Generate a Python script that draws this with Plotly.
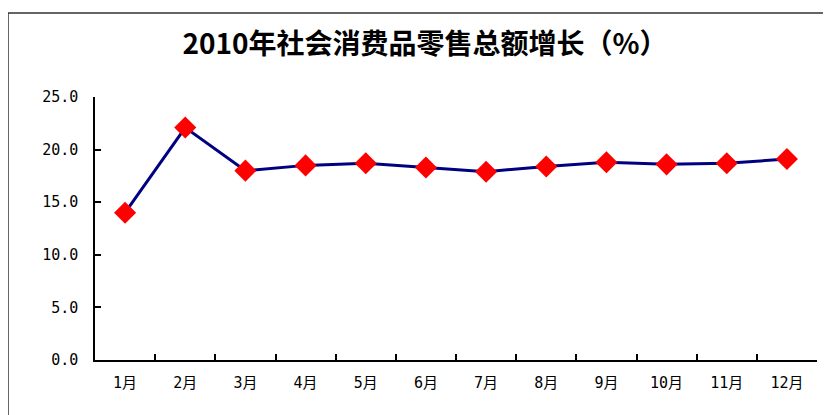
import plotly.graph_objects as go

months = ["1月", "2月", "3月", "4月", "5月", "6月", "7月", "8月", "9月", "10月", "11月", "12月"]
growth = [14.0, 22.1, 18.0, 18.5, 18.7, 18.3, 17.9, 18.4, 18.8, 18.6, 18.7, 19.1]
y_ticks = [0, 5, 10, 15, 20, 25]
y_tick_text = ["0.0", "5.0", "10.0", "15.0", "20.0", "25.0"]
title_text = "2010年社会消费品零售总额增长（%）"

# page has an 8px body margin; the plot area should land at x 95..817, y 97..360 on the page
OFF = 8

fig = go.Figure()
fig.add_trace(go.Scatter(
    x=months, y=growth, mode="lines+markers",
    line=dict(color="#000080", width=3),
    marker=dict(symbol="diamond", size=17, color="#FF0000", line=dict(width=0)),
    cliponaxis=False,
))

fig.update_layout(
    width=831, height=415,
    margin=dict(l=95 - OFF, r=831 - (817 - OFF), t=97 - OFF, b=415 - (360 - OFF)),
    paper_bgcolor="white", plot_bgcolor="white",
    showlegend=False,
    title=dict(text=title_text, x=(425 - OFF) / 831, xanchor="center", y=1 - (44 - OFF) / 415,
               yanchor="middle", yref="container",
               font=dict(family="Noto Sans CJK SC", size=28, color="black", weight="bold")),
    xaxis=dict(type="category", tickson="boundaries", ticks="inside", ticklen=6,
               tickcolor="black", tickwidth=1.5, showline=True, linecolor="black", linewidth=1.5,
               showgrid=False, zeroline=False, range=[-0.5, 11.5], ticklabelstandoff=8,
               tickfont=dict(family="DejaVu Sans Mono, Noto Sans CJK SC", size=15, color="black")),
    yaxis=dict(range=[0, 25], tickvals=y_ticks, ticktext=y_tick_text, ticks="inside", ticklen=6,
               tickcolor="black", tickwidth=1.5, showline=True, linecolor="black", linewidth=1.5,
               showgrid=False, zeroline=False, ticklabelstandoff=12,
               tickfont=dict(family="DejaVu Sans Mono", size=15, color="black")),
)

fig.add_shape(type="rect", xref="paper", yref="paper",
              x0=(8 - 95) / 722, x1=(828 - 95) / 722,
              y0=(360 - 430) / 263, y1=(360 - 13) / 263,
              line=dict(color="#333333", width=1.5), layer="below")

fig.write_html("out.html")
